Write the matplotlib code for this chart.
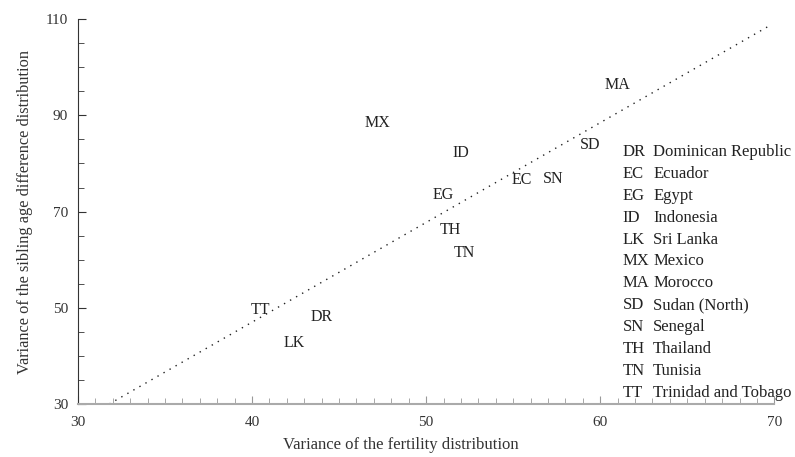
import matplotlib
matplotlib.use("Agg")
import matplotlib.pyplot as plt
import numpy as np

plt.rcParams['font.family'] = ['Liberation Serif', 'DejaVu Serif']

################# data #################
codes = ["MA", "SD", "MX", "ID", "EC", "SN", "EG", "TH", "TN", "TT", "DR", "LK"]
fert_var = [61.0, 59.4, 47.2, 52.0, 55.5, 57.3, 51.0, 51.4, 52.2, 40.5, 44.0, 42.4]
sib_var = [96.4, 83.9, 88.5, 82.1, 76.5, 76.7, 73.4, 66.2, 61.3, 49.5, 48.0, 42.7]

# fitted line (dotted)
line_x = [31.8, 69.7]
line_y = [30.0, 108.6]

key_codes = ["DR", "EC", "EG", "ID", "LK", "MX", "MA", "SD", "SN", "TH", "TN", "TT"]
key_names = ["Dominican Republic", "Ecuador", "Egypt", "Indonesia", "Sri Lanka", "Mexico",
             "Morocco", "Sudan (North)", "Senegal", "Thailand", "Tunisia", "Trinidad and Tobago"]

x_ticklabels = [30, 40, 50, 60, 70]
y_ticklabels = [30, 50, 70, 90, 110]
################# data #################

fig = plt.figure(figsize=(7.95, 4.57), dpi=100)
ax = fig.add_axes([0.098, 0.116, 0.876, 0.842])

ax.plot(line_x, line_y, linestyle=(0, (1, 4)), color='#222222', linewidth=1.0)

for c, x, y in zip(codes, fert_var, sib_var):
    ax.text(x, y, c, ha='center', va='center', fontsize=11.5, color='#222222')

ax.set_xlim(30, 70)
ax.set_ylim(30, 110)
ax.set_xticks(x_ticklabels)
ax.set_xticks(np.arange(30, 71, 1), minor=True)
ax.set_yticks(y_ticklabels)
ax.set_yticks(np.arange(30, 111, 5), minor=True)

ax.spines['top'].set_visible(False)
ax.spines['right'].set_visible(False)
ax.spines['left'].set_color('#333333')
ax.spines['bottom'].set_color('#aaaaaa')
ax.spines['bottom'].set_linewidth(1.5)

ax.tick_params(axis='both', which='both', direction='in', labelsize=11, colors='#333333')
ax.tick_params(axis='x', which='both', colors='#999999', labelcolor='#333333', pad=9)
ax.tick_params(axis='y', which='both', pad=7)
ax.tick_params(which='major', length=6)
ax.tick_params(which='minor', length=4)

ax.set_xlabel("Variance of the fertility distribution", fontsize=12, color='#333333')
ax.xaxis.set_label_coords(0.463, -0.085)
ax.set_ylabel("Variance of the sibling age difference distribution", fontsize=11.8, color='#333333')
ax.yaxis.set_label_coords(-0.064, 0.5)

# key of country codes
y0 = 0.655
dy = 0.0569
for i, (c, n) in enumerate(zip(key_codes, key_names)):
    ax.text(0.782, y0 - i * dy, c, transform=ax.transAxes, fontsize=12,
            va='center', ha='left', color='#222222')
    ax.text(0.826, y0 - i * dy, n, transform=ax.transAxes, fontsize=12,
            va='center', ha='left', color='#222222')

fig.savefig("out.png", dpi=100)
